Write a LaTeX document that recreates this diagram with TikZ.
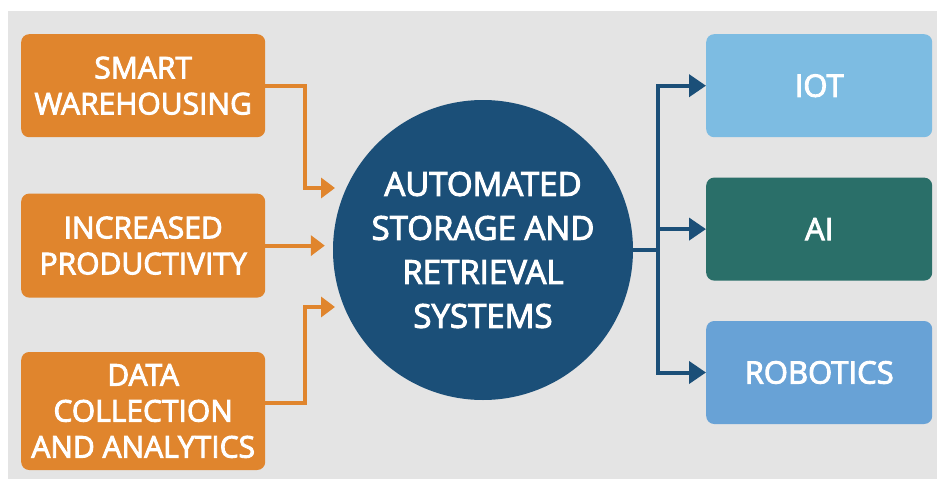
\documentclass[tikz,border=0pt]{standalone}
\usepackage{fontspec}
\setmainfont{Open Sans}
\newfontfamily\lblfont{Open Sans}[FakeBold=3]
\usetikzlibrary{arrows.meta,positioning}
\definecolor{bggray}{HTML}{E4E4E4}
\definecolor{boxorange}{HTML}{E0852D}
\definecolor{hubblue}{HTML}{1B4F78}
\definecolor{iotblue}{HTML}{7DBCE2}
\definecolor{aiteal}{HTML}{2A6F69}
\definecolor{robblue}{HTML}{68A2D6}

\begin{document}
\begin{tikzpicture}[x=1pt, y=-1pt, node distance=56pt and 40pt,
  lbox/.style={fill=boxorange, rounded corners=8pt, text=white, align=center,
    font=\lblfont\fontsize{30}{36}\selectfont, minimum width=244pt, inner sep=0pt},
  rbox/.style={rounded corners=8pt, text=white, align=center,
    font=\lblfont\fontsize{31}{38}\selectfont, minimum width=226pt, minimum height=103pt, inner sep=0pt},
  hub/.style={circle, fill=hubblue, text=white, align=center,
    font=\lblfont\fontsize{33}{44}\selectfont, minimum size=300pt, inner sep=0pt},
  oarr/.style={draw=boxorange, line width=4pt, -{Triangle[length=14pt,width=20pt]}},
  barr/.style={draw=hubblue, line width=4pt, -{Triangle[length=17pt,width=22pt]}}]
% background
\fill[white] (0,0) rectangle (937,479);
\fill[bggray] (8,11) rectangle (937,479);
% left column
\node[lbox, minimum height=103pt, anchor=north west] (sw) at (21,34) {SMART\\WAREHOUSING};
\node[lbox, minimum height=104pt, below=56pt of sw] (ip) {INCREASED\\PRODUCTIVITY};
\node[lbox, minimum height=118pt, below=54pt of ip] (dc) {DATA\\COLLECTION\\AND ANALYTICS};
% hub
\node[hub] (asrs) at (483,250) {AUTOMATED\\STORAGE AND\\RETRIEVAL\\SYSTEMS};
% right column
\node[rbox, fill=iotblue, anchor=north west] (iot) at (706,34) {IOT};
\node[rbox, fill=aiteal, below=40pt of iot] (ai) {AI};
\node[rbox, fill=robblue, below=40pt of ai] (rob) {ROBOTICS};
% inputs
\draw[oarr] (sw.east) -- ++(40,0) |- ([shift={(-148,-62)}]asrs.center);
\draw[oarr] (ip.east) -- ([xshift=-8pt]ip.east -| asrs.west);
\draw[oarr] ([yshift=8pt]dc.east) -- ++(40,0) |- ([shift={(-148,57)}]asrs.center);
% outputs
\draw[barr] (asrs.east) -- ++(25,0) |- (iot.west);
\draw[barr] (asrs.east) -- ++(25,0) |- (ai.west);
\draw[barr] (asrs.east) -- ++(25,0) |- (rob.west);
\end{tikzpicture}
\end{document}
